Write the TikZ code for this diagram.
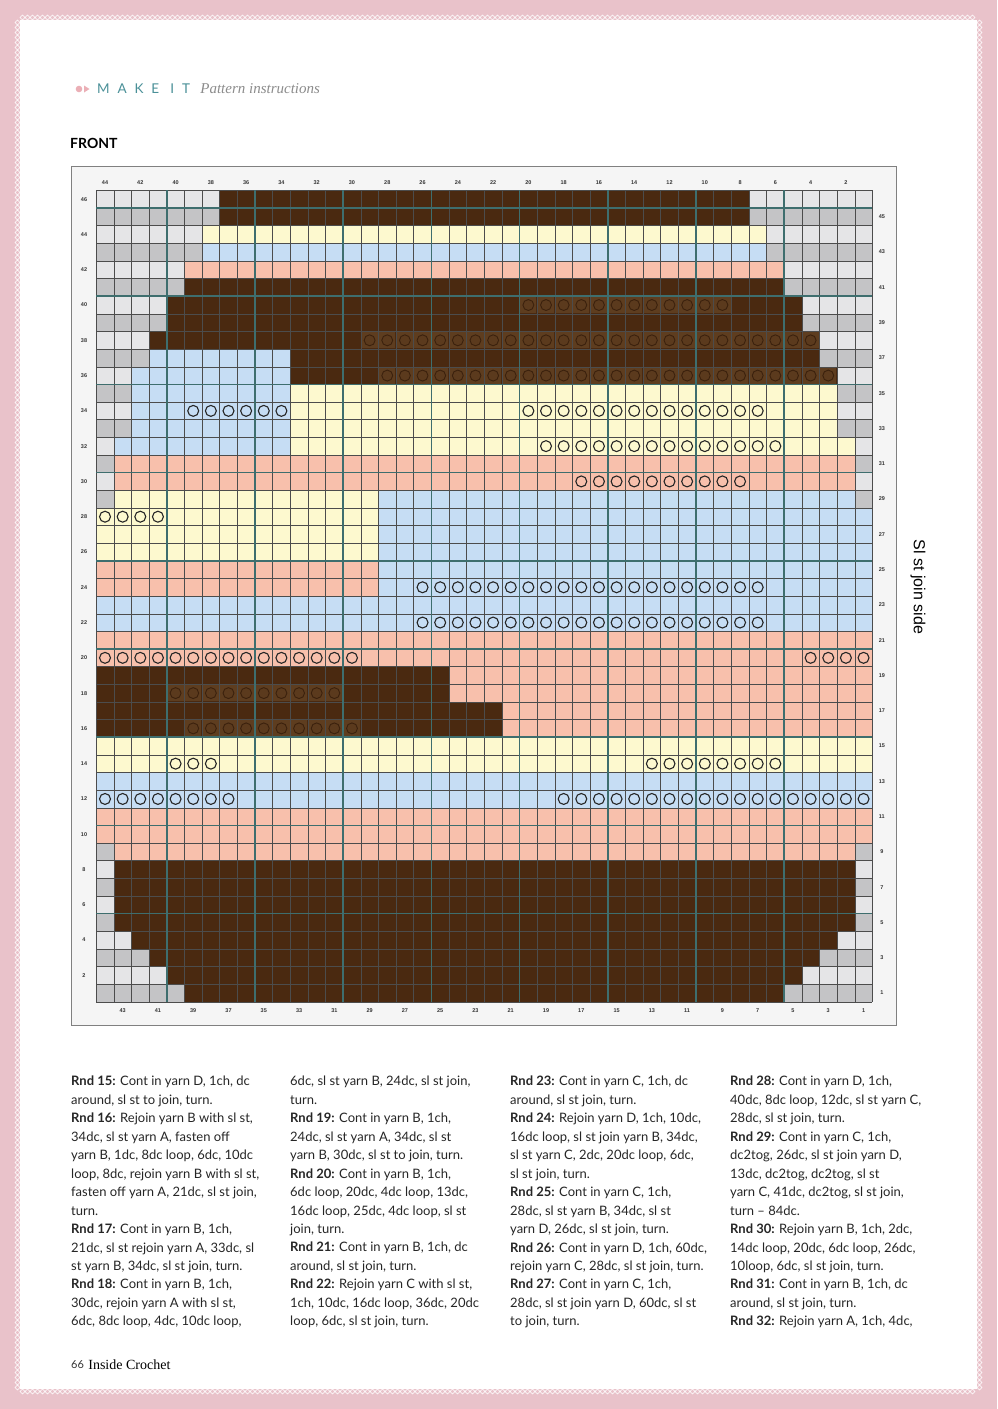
\documentclass[tikz,border=0pt]{standalone}
\usepackage{fontspec}
\setmainfont{Lato}
\newfontfamily\chartfont{Liberation Sans}
\newfontfamily\headfont[LetterSpace=58]{Lato}
\newfontfamily\footfont{Liberation Serif}
\usetikzlibrary{positioning}

\definecolor{yarnA}{HTML}{4A2910}
\definecolor{yarnB}{HTML}{F8C0AC}
\definecolor{yarnC}{HTML}{C6DDF4}
\definecolor{yarnD}{HTML}{FDF9CF}
\definecolor{greyodd}{HTML}{C4C4C6}
\definecolor{greyeven}{HTML}{E5E5E7}
\definecolor{loopfill}{HTML}{5E3D1F}
\definecolor{gridteal}{HTML}{3E6E6E}
\definecolor{pagepink}{HTML}{E9C2CA}
\definecolor{headteal}{HTML}{4A9098}

\tikzset{
  chartlabel/.style={font=\chartfont\bfseries\fontsize{5.5}{6}\selectfont, text=black!80, inner sep=0pt},
  loopring/.style={draw=black!85, line width=1.1pt},
  brownloop/.style={draw=yarnA!80!black, fill=loopfill!85!yarnA, line width=0.9pt},
  thinline/.style={black!70, line width=0.45pt},
  thickline/.style={gridteal, line width=1.6pt},
  rndtext/.style={anchor=north west, align=left, inner sep=0pt, text=black!85,
    font=\fontsize{13}{18.46}\selectfont},
  lace/.style={white, line width=0.6pt},
}

\begin{document}
\begin{tikzpicture}[x=1pt, y=-1pt]
\useasboundingbox (0,0) rectangle (997,1409);
% page and lace edge
\fill[pagepink] (0,0) rectangle (997,1409);
\fill[white] (20,20) rectangle (977,1389);
\foreach \i in {0,...,190} {
  \draw[lace] ({20+5*\i},17.5) -- ++(2.5,-2.5) -- ++(2.5,2.5) -- ++(-2.5,2.5) -- cycle;
  \draw[lace] ({20+5*\i},1391.5) -- ++(2.5,-2.5) -- ++(2.5,2.5) -- ++(-2.5,2.5) -- cycle;
}
\foreach \i in {0,...,273} {
  \draw[lace] (17.5,{20+5*\i}) -- ++(-2.5,2.5) -- ++(2.5,2.5) -- ++(2.5,-2.5) -- cycle;
  \draw[lace] (979.5,{20+5*\i}) -- ++(-2.5,2.5) -- ++(2.5,2.5) -- ++(2.5,-2.5) -- cycle;
}

% header
\fill[pagepink!90!red] (79,89) circle (3.3);
\fill[pagepink!90!red] (84,85.5) -- (89.5,89) -- (84,92.5) -- cycle;
\node[anchor=west, inner sep=0pt, text=headteal, font=\headfont\fontsize{13.5}{14}\selectfont] (makeit) at (97,89) {MAKE IT};
\node[right=10pt of makeit, inner sep=0pt, text=black!45, font=\footfont\itshape\fontsize{15}{16}\selectfont] (subhead) {Pattern instructions};
\node[anchor=west, inner sep=0pt, font=\bfseries\fontsize{14}{15}\selectfont] (front) at (70,143) {FRONT};

% chart frame
\draw[black!50, fill=black!4, line width=0.8pt] (71,166) rectangle (896,1025);
\node[anchor=center, rotate=-90, inner sep=0pt, font=\chartfont\fontsize{16}{18}\selectfont] (joinside) at (918,587) {Sl st join side};

\begin{scope}[shift={(96.2,1001.8)}, x=17.64pt, y=17.64pt]
  % unused cells
  \foreach \r in {1,...,46} {
    \ifodd\r \def\g{greyodd}\else \def\g{greyeven}\fi
    \fill[\g] (0,\r-1) rectangle (44,\r);
  }
  % yarn runs: row / from col / to col / yarn
  \foreach \r/\a/\b/\c in {46/37/8/yarnA, 45/37/8/yarnA, 44/38/7/yarnD, 43/38/7/yarnC,
      42/39/6/yarnB, 41/39/6/yarnA, 40/40/5/yarnA, 39/40/5/yarnA, 38/41/4/yarnA,
      37/41/34/yarnC, 37/33/4/yarnA, 36/42/34/yarnC, 36/33/3/yarnA,
      35/42/34/yarnC, 35/33/3/yarnD, 34/42/34/yarnC, 34/33/3/yarnD,
      33/42/34/yarnC, 33/33/3/yarnD, 32/43/34/yarnC, 32/33/2/yarnD,
      31/43/2/yarnB, 30/43/2/yarnB, 29/43/29/yarnD, 29/28/2/yarnC,
      28/44/29/yarnD, 28/28/1/yarnC, 27/44/29/yarnD, 27/28/1/yarnC,
      26/44/29/yarnD, 26/28/1/yarnC, 25/44/29/yarnB, 25/28/1/yarnC,
      24/44/29/yarnB, 24/28/1/yarnC, 23/44/1/yarnC, 22/44/1/yarnC,
      21/44/1/yarnB, 20/44/1/yarnB, 19/44/25/yarnA, 19/24/1/yarnB,
      18/44/25/yarnA, 18/24/1/yarnB, 17/44/22/yarnA, 17/21/1/yarnB,
      16/44/22/yarnA, 16/21/1/yarnB, 15/44/1/yarnD, 14/44/1/yarnD,
      13/44/1/yarnC, 12/44/1/yarnC, 11/44/1/yarnB, 10/44/1/yarnB,
      9/43/2/yarnB, 8/43/2/yarnA, 7/43/2/yarnA, 6/43/2/yarnA, 5/43/2/yarnA,
      4/42/3/yarnA, 3/41/4/yarnA, 2/40/5/yarnA, 1/39/6/yarnA}
    \fill[\c] ({44-\a},\r-1) rectangle ({45-\b},\r);
  % loops worked in brown
  \foreach \r/\a/\b in {40/20/9, 38/29/4, 36/28/3, 18/40/31, 16/39/30}
    \foreach \k in {\b,...,\a} {
      \fill[loopfill] ({44.04-\k},\r-0.96) rectangle ({44.96-\k},\r-0.04);
      \draw[brownloop] ({44.5-\k},\r-0.5) circle (0.31);
    }
  % grid
  \foreach \i in {0,...,44} \draw[thinline] (\i,0) -- (\i,46);
  \foreach \j in {0,...,46} \draw[thinline] (0,\j) -- (44,\j);
  \foreach \i in {4,9,...,39} \draw[thickline] (\i,0) -- (\i,46);
  \foreach \j in {5,10,...,45} \draw[thickline] (0,\j) -- (44,\j);
  % loops on light yarn
  \foreach \r/\a/\b in {34/39/34, 34/20/7, 32/19/6, 30/17/8, 28/44/41, 24/26/7,
      22/26/7, 20/44/30, 20/4/1, 14/40/38, 14/13/6, 12/44/37, 12/18/1}
    \foreach \k in {\b,...,\a}
      \draw[loopring] ({44.5-\k},\r-0.5) circle (0.31);
  % numbers
  \foreach \c in {2,4,...,44} \node[chartlabel] (top\c) at ({44.5-\c},46.46) {\c};
  \foreach \c in {1,3,...,43} \node[chartlabel] (bot\c) at ({44.5-\c},-0.52) {\c};
  \foreach \r in {2,4,...,46} \node[chartlabel] (left\r) at (-0.69,\r-0.5) {\r};
  \foreach \r in {1,3,...,45} \node[chartlabel] (right\r) at (44.54,\r-0.5) {\r};
\end{scope}

% pattern rounds
\node[rndtext] (rndA) at (71,1076) {\textbf{Rnd 15:} Cont in yarn D, 1ch, dc\\
around, sl st to join, turn.\\
\textbf{Rnd 16:} Rejoin yarn B with sl st,\\
34dc, sl st yarn A, fasten off\\
yarn B, 1dc, 8dc loop, 6dc, 10dc\\
loop, 8dc, rejoin yarn B with sl st,\\
fasten off yarn A, 21dc, sl st join,\\
turn.\\
\textbf{Rnd 17:} Cont in yarn B, 1ch,\\
21dc, sl st rejoin yarn A, 33dc, sl\\
st yarn B, 34dc, sl st join, turn.\\
\textbf{Rnd 18:} Cont in yarn B, 1ch,\\
30dc, rejoin yarn A with sl st,\\
6dc, 8dc loop, 4dc, 10dc loop,};
\node[rndtext] (rndB) at (290,1076) {6dc, sl st yarn B, 24dc, sl st join,\\
turn.\\
\textbf{Rnd 19:} Cont in yarn B, 1ch,\\
24dc, sl st yarn A, 34dc, sl st\\
yarn B, 30dc, sl st to join, turn.\\
\textbf{Rnd 20:} Cont in yarn B, 1ch,\\
6dc loop, 20dc, 4dc loop, 13dc,\\
16dc loop, 25dc, 4dc loop, sl st\\
join, turn.\\
\textbf{Rnd 21:} Cont in yarn B, 1ch, dc\\
around, sl st join, turn.\\
\textbf{Rnd 22:} Rejoin yarn C with sl st,\\
1ch, 10dc, 16dc loop, 36dc, 20dc\\
loop, 6dc, sl st join, turn.};
\node[rndtext] (rndC) at (510,1076) {\textbf{Rnd 23:} Cont in yarn C, 1ch, dc\\
around, sl st join, turn.\\
\textbf{Rnd 24:} Rejoin yarn D, 1ch, 10dc,\\
16dc loop, sl st join yarn B, 34dc,\\
sl st yarn C, 2dc, 20dc loop, 6dc,\\
sl st join, turn.\\
\textbf{Rnd 25:} Cont in yarn C, 1ch,\\
28dc, sl st yarn B, 34dc, sl st\\
yarn D, 26dc, sl st join, turn.\\
\textbf{Rnd 26:} Cont in yarn D, 1ch, 60dc,\\
rejoin yarn C, 28dc, sl st join, turn.\\
\textbf{Rnd 27:} Cont in yarn C, 1ch,\\
28dc, sl st join yarn D, 60dc, sl st\\
to join, turn.};
\node[rndtext] (rndD) at (730,1076) {\textbf{Rnd 28:} Cont in yarn D, 1ch,\\
40dc, 8dc loop, 12dc, sl st yarn C,\\
28dc, sl st join, turn.\\
\textbf{Rnd 29:} Cont in yarn C, 1ch,\\
dc2tog, 26dc, sl st join yarn D,\\
13dc, dc2tog, dc2tog, sl st\\
yarn C, 41dc, dc2tog, sl st join,\\
turn – 84dc.\\
\textbf{Rnd 30:} Rejoin yarn B, 1ch, 2dc,\\
14dc loop, 20dc, 6dc loop, 26dc,\\
10loop, 6dc, sl st join, turn.\\
\textbf{Rnd 31:} Cont in yarn B, 1ch, dc\\
around, sl st join, turn.\\
\textbf{Rnd 32:} Rejoin yarn A, 1ch, 4dc,};

% folio
\node[anchor=west, inner sep=0pt, text=black!80, font=\fontsize{11}{12}\selectfont] (folio) at (71,1365) {66};
\node[right=4pt of folio, inner sep=0pt, font=\footfont\fontsize{14}{15}\selectfont] (mag) {Inside Crochet};
\end{tikzpicture}
\end{document}
